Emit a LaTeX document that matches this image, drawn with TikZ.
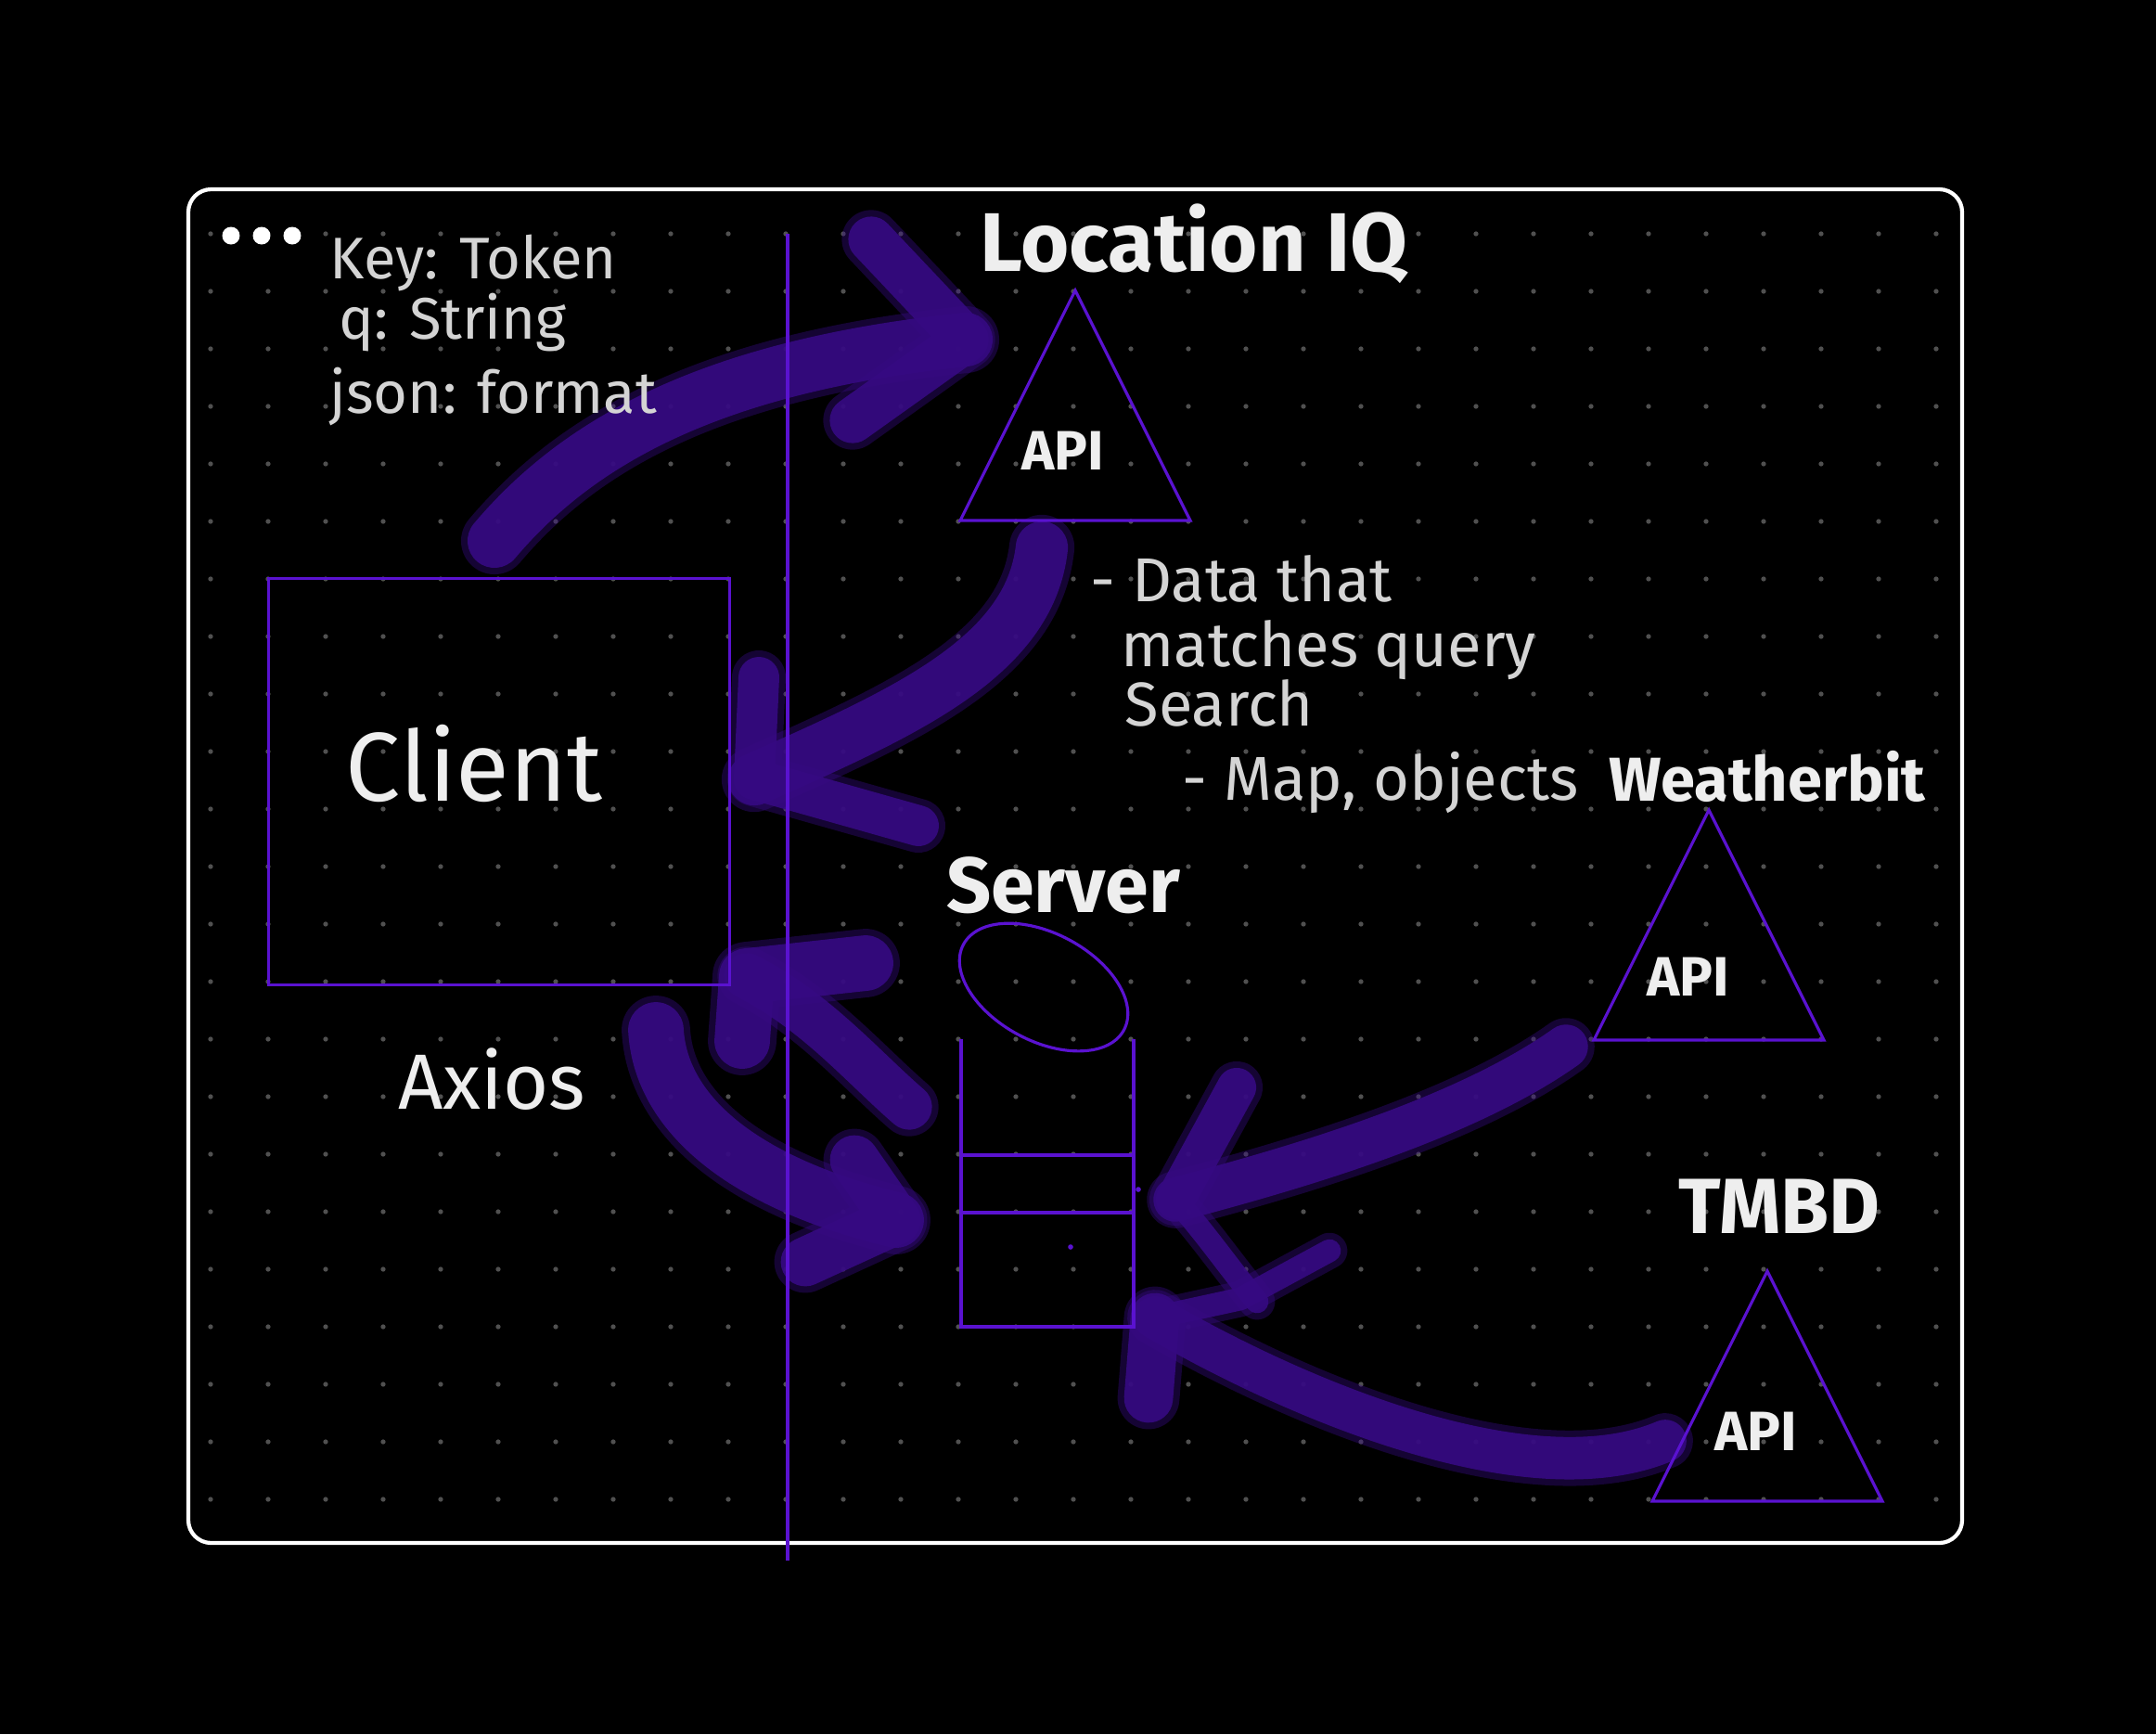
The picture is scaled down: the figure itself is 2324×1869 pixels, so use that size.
\documentclass[tikz,border=0pt]{standalone}
\usepackage{fontspec}
\setmainfont{Fira Sans}
\definecolor{ink}{RGB}{90,18,208}
\definecolor{brushc}{RGB}{54,10,130}
\definecolor{chalk}{RGB}{238,238,238}
\definecolor{pencil}{RGB}{212,212,212}
\definecolor{griddot}{RGB}{80,80,80}

% one brush stroke: soft rim, then the core
\newcommand{\brushline}[2]{%
  \draw[brushsoft, line width=#1+4pt] #2;
  \draw[brush, line width=#1] #2;}

\begin{document}
\begin{tikzpicture}[x=0.01cm, y=-0.01cm,
    inkline/.style={draw=ink, line width=0.9pt, line join=miter},
    brush/.style={draw=brushc, line cap=round, line join=round, opacity=0.9},
    brushsoft/.style={draw=brushc, line cap=round, line join=round, opacity=0.4},
    title/.style={text=chalk, font=\bfseries\fontsize{24}{28}\selectfont, inner sep=0pt},
    apitext/.style={text=chalk, font=\bfseries\fontsize{17}{20}\selectfont, inner sep=0pt},
    hand/.style={text=chalk, font=\fontsize{30}{34}\selectfont, inner sep=0pt},
    note/.style={text=pencil, font=\fontsize{19}{22}\selectfont, inner sep=0pt, anchor=base west}]

\fill[black] (0,0) rectangle (2324,1869);
\useasboundingbox (0,0) rectangle (2324,1869);

% dotted paper
\foreach \i in {0,...,30}
  \foreach \j in {0,...,22}
    \fill[griddot] (227+62*\i, 252+62*\j) circle[radius=0.75pt];

% window frame
\draw[white, line width=1.2pt, rounded corners=7pt] (203,204) rectangle (2115,1663);
\foreach \x in {249,282,315}
  \fill[white] (\x,254) circle[radius=2.7pt];

% ends of the brush arrows
\coordinate (client-out) at (533,583);
\coordinate (liq-in) at (1041,366);
\coordinate (liq-out) at (1123,590);
\coordinate (client-in) at (813,840);
\coordinate (srv-out) at (980,1193);
\coordinate (client-in2) at (805,1052);
\coordinate (client-out2) at (707,1110);
\coordinate (srv-in1) at (966,1315);
\coordinate (wb-out) at (1688,1128);
\coordinate (srv-in2) at (1267,1293);
\coordinate (wb-flick) at (1355,1403);
\coordinate (tmdb-out) at (1795,1553);
\coordinate (srv-in3) at (1245,1420);

% client -> location iq
\brushline{16.5pt}{(client-out) .. controls (620,480) and (760,395) .. (liq-in)}
\brushline{14pt}{([shift={(-102,-108)}]liq-in) -- (liq-in) -- ++(-122,87)}
% location iq -> client
\brushline{16pt}{(liq-out) .. controls (1110,710) and (970,770) .. (client-in)}
\brushline{12.5pt}{([shift={(5,-110)}]client-in) -- (client-in) -- ++(177,50)}
% server -> client
\brushline{14pt}{(srv-out) .. controls (930,1150) and (880,1090) .. (client-in2)}
\brushline{17pt}{([shift={(-5,70)}]client-in2) -- (client-in2) -- ++(128,-14)}
% client -> server
\brushline{17pt}{(client-out2) .. controls (712,1200) and (800,1275) .. (srv-in1)}
\brushline{15pt}{([shift={(-45,-65)}]srv-in1) -- (srv-in1) -- ++(-98,45)}
% weatherbit -> server
\brushline{13.5pt}{(wb-out) .. controls (1580,1205) and (1400,1258) .. (srv-in2)}
\brushline{12pt}{([shift={(66,-121)}]srv-in2) -- (srv-in2)}
\brushline{7pt}{(srv-in2) .. controls (1300,1330) and (1320,1360) .. (wb-flick)}
% tmdb -> server
\brushline{13pt}{(tmdb-out) .. controls (1650,1615) and (1400,1510) .. (srv-in3)}
\brushline{7pt}{([shift={(188,-72)}]srv-in3) -- ++(-96,52) -- (srv-in3)}
\brushline{15pt}{(srv-in3) -- ++(-7,87)}

% divider
\coordinate (div-top) at (849,252);
\coordinate (div-bot) at (849,1682);
\draw[inkline] (div-top) -- (div-bot);

% client
\node[inkline, minimum width=4.96cm, minimum height=4.37cm, inner sep=0pt] (client) at (538,842.5) {};
\node[hand] (client-label) at (511,823) {Client};
\node[hand, font=\fontsize{24}{28}\selectfont] (axios) at (530,1163) {Axios};

% request params
\node[note, font=\fontsize{18}{22}\selectfont] (key) at (355,300) {Key: Token};
\node[note, font=\fontsize{18}{22}\selectfont] (query) at (365,365) {q: String};
\node[note, font=\fontsize{18}{22}\selectfont] (format) at (355,445) {json: format};

% the three apis
\foreach \name/\x/\y in {liq/1159/313, wb/1842/873, tmdb/1905/1370} {
  \coordinate (\name-top) at (\x,\y);
  \draw[inkline] (\name-top) -- ++(-124,248) -- ++(248,0) -- cycle;
}
\node[title, font=\bfseries\fontsize{25.5}{30}\selectfont] (liq-label) at (1287,263) {Location IQ};
\node[title, font=\bfseries\fontsize{19}{23}\selectfont] (wb-label) at (1905,837) {Weatherbit};
\node[title] (tmdb-label) at (1918,1300) {TMBD};
\node[apitext] (liq-api) at (1146,486) {API};
\node[apitext] (wb-api) at (1820,1053) {API};
\node[apitext] (tmdb-api) at (1893,1543) {API};

% response notes
\node[note] (data) at (1175,648) {- Data that};
\node[note] (match) at (1208,718) {matches query};
\node[note] (search) at (1212,782) {Search};
\node[note] (objects) at (1274,862) {- Map, objects};

% server
\node[title] (srv-label) at (1146,954) {Server};
\draw[inkline, rotate around={-28:(1125,1064)}] (1125,1064) ellipse [x radius=98, y radius=58];
\draw[inkline] (1036,1120) -- (1036,1430) -- (1222,1430) -- (1222,1120);
\draw[inkline] (1036,1245) -- (1222,1245);
\draw[inkline] (1036,1307) -- (1222,1307);
\fill[ink] (1227,1282) circle[radius=0.8pt];
\fill[ink] (1154,1344) circle[radius=0.8pt];
\end{tikzpicture}
\end{document}
